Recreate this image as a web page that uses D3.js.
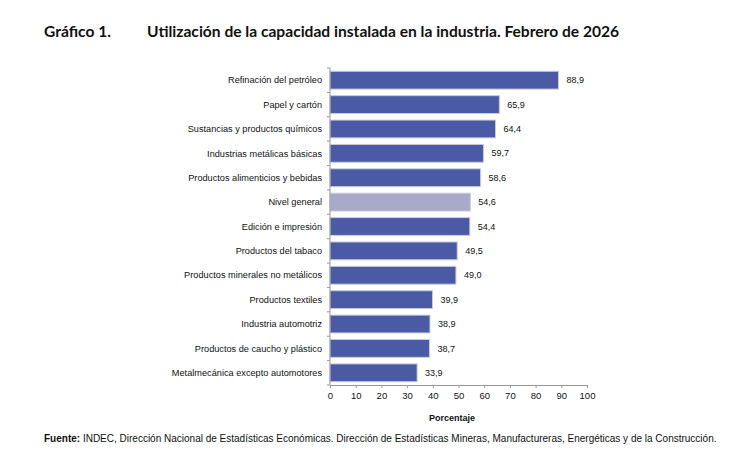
<!DOCTYPE html>
<html>
<head>
<meta charset="utf-8">
<script src="https://cdn.jsdelivr.net/npm/d3@7"></script>
<style>
  body { margin: 0; background: #fff; }
  svg { display: block; }
</style>
</head>
<body>
<div id="chart"></div>
<script>
// data
var categories = [
  "Refinación del petróleo",
  "Papel y cartón",
  "Sustancias y productos químicos",
  "Industrias metálicas básicas",
  "Productos alimenticios y bebidas",
  "Nivel general",
  "Edición e impresión",
  "Productos del tabaco",
  "Productos minerales no metálicos",
  "Productos textiles",
  "Industria automotriz",
  "Productos de caucho y plástico",
  "Metalmecánica excepto automotores"
]
var values = [88.9, 65.9, 64.4, 59.7, 58.6, 54.6, 54.4, 49.5, 49.0, 39.9, 38.9, 38.7, 33.9]
var xTicks = [0, 10, 20, 30, 40, 50, 60, 70, 80, 90, 100]

var data = categories.map(function(c, i) { return { name: c, value: values[i] } })

var width = 751
var height = 476

var svg = d3.select("#chart")
  .append("svg")
    .attr("width", width)
    .attr("height", height)

// title
svg.append("text")
  .attr("x", 44).attr("y", 37)
  .style("font-family", "Lato, 'Noto Sans', sans-serif")
  .style("font-weight", "bold")
  .style("font-size", "15.6px")
  .attr("fill", "#111")
  .text("Gráfico 1.")

svg.append("text")
  .attr("x", 147).attr("y", 37)
  .style("font-family", "Lato, 'Noto Sans', sans-serif")
  .style("font-weight", "bold")
  .style("font-size", "15.6px")
  .attr("fill", "#111")
  .text("Utilización de la capacidad instalada en la industria. Febrero de 2026")

var x = d3.scaleLinear().domain([0, 100]).range([330, 587])
var y = d3.scaleBand().domain(categories).range([68, 385]).paddingInner(0.27).paddingOuter(0.135)

var axisColor = "#999"
var font = "'Liberation Sans', Arial, sans-serif"

// bars
svg.append("g")
  .selectAll("rect")
  .data(data)
  .enter()
  .append("rect")
    .attr("x", x(0))
    .attr("y", function(d) { return y(d.name) })
    .attr("width", function(d) { return x(d.value) - x(0) })
    .attr("height", y.bandwidth())
    .attr("fill", function(d) { return d.name == "Nivel general" ? "#a9aac9" : "#4b5aa5" })
    .attr("stroke", "#c9cad9")
    .attr("stroke-width", 1)

// value labels
svg.append("g")
  .selectAll("text")
  .data(data)
  .enter()
  .append("text")
    .attr("x", function(d) { return x(d.value) + 8 })
    .attr("y", function(d) { return y(d.name) + y.bandwidth() / 2 })
    .attr("dy", "0.35em")
    .style("font-family", font)
    .style("font-size", "9px")
    .attr("fill", "#111")
    .text(function(d) { return d3.format(".1f")(d.value).replace(".", ",") })

// y axis: line, ticks between categories, labels
var yg = svg.append("g")
yg.append("line")
  .attr("x1", x(0)).attr("x2", x(0))
  .attr("y1", 68).attr("y2", 385)
  .attr("stroke", axisColor)
var boundaries = d3.range(categories.length + 1).map(function(i) { return 68 + i * (317 / categories.length) })
yg.selectAll(".tk")
  .data(boundaries)
  .enter()
  .append("line")
    .attr("x1", x(0) - 3).attr("x2", x(0))
    .attr("y1", function(d) { return d }).attr("y2", function(d) { return d })
    .attr("stroke", axisColor)
yg.selectAll("text")
  .data(categories)
  .enter()
  .append("text")
    .attr("x", x(0) - 8)
    .attr("y", function(d) { return y(d) + y.bandwidth() / 2 })
    .attr("dy", "0.35em")
    .attr("text-anchor", "end")
    .style("font-family", font)
    .style("font-size", "9.2px")
    .attr("fill", "#111")
    .text(function(d) { return d })

// x axis
var xAxis = d3.axisBottom(x).tickValues(xTicks).tickSize(3).tickPadding(4)
var xg = svg.append("g")
  .attr("transform", "translate(0,385)")
  .call(xAxis)
xg.select(".domain").attr("stroke", axisColor)
xg.selectAll(".tick line").attr("stroke", axisColor)
xg.selectAll("text")
  .style("font-family", font)
  .style("font-size", "9.5px")
  .attr("fill", "#111")

svg.append("text")
  .attr("x", 452).attr("y", 421)
  .attr("text-anchor", "middle")
  .style("font-family", font)
  .style("font-weight", "bold")
  .style("font-size", "9px")
  .attr("fill", "#111")
  .text("Porcentaje")

// source
var src = svg.append("text")
  .attr("x", 44).attr("y", 442)
  .style("font-family", font)
  .style("font-size", "10px")
  .attr("fill", "#111")
src.append("tspan").style("font-weight", "bold").text("Fuente:")
src.append("tspan").text(" INDEC, Dirección Nacional de Estadísticas Económicas. Dirección de Estadísticas Mineras, Manufactureras, Energéticas y de la Construcción.")
</script>
</body>
</html>
